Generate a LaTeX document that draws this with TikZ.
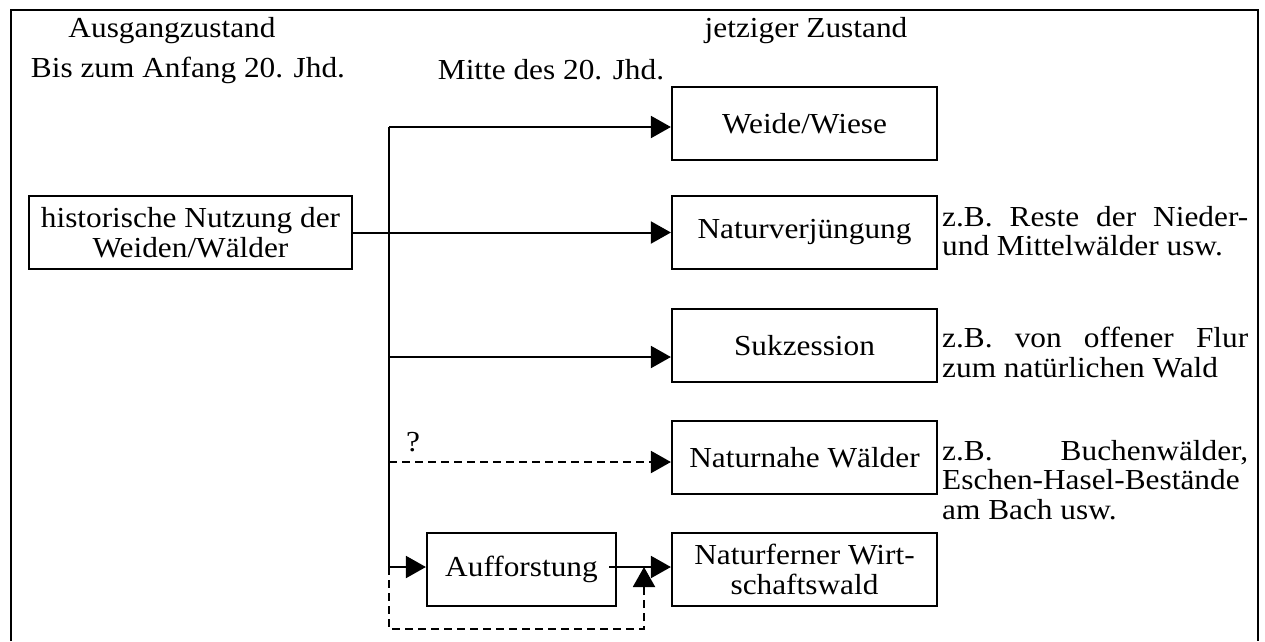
\documentclass[tikz,border=0pt]{standalone}
\usepackage{fontspec}
\setmainfont[FakeStretch=1.08]{Liberation Serif}
\usetikzlibrary{arrows.meta}
\begin{document}
\begin{tikzpicture}[x=1pt,y=-1pt,
  txt/.style={font=\fontsize{29}{29}\selectfont, inner sep=0pt},
  box/.style={draw, line width=2.2pt, minimum height=73pt, inner sep=0pt, align=center, font=\fontsize{29}{30}\selectfont},
  rbox/.style={box, minimum width=265pt},
  side/.style={font=\fontsize{29}{29.5}\selectfont, inner sep=0pt, align=left, anchor=north west},
  conn/.style={line width=2pt},
  arr/.style={conn, -{Triangle[length=20pt,width=22pt]}},
  dsh/.style={dash pattern=on 8pt off 5pt}]
\useasboundingbox (0,0) rectangle (1265,641);
% frame
\draw[line width=2.6pt] (11,641) -- (11,10) -- (1258,10) -- (1258,641);
% headers
\node[txt] (h1) at (172,31) {Ausgangzustand};
\node[txt] (h2) at (188,70) {Bis zum Anfang 20. Jhd.};
\node[txt] (h3) at (551,70) {Mitte des 20. Jhd.};
\node[txt] (h4) at (806,31) {jetziger Zustand};
% boxes
\node[box, minimum width=323pt] (hist) at (190.5,232.5) {historische Nutzung der\\Weiden/Wälder};
\node[rbox] (weide) at (804.5,123.5) {Weide/Wiese};
\node[rbox] (nv) at (804.5,232.5) {\raisebox{-5pt}{Naturverjüngung}};
\node[rbox] (suk) at (804.5,345.5) {Sukzession};
\node[rbox] (nn) at (804.5,457.5) {Naturnahe Wälder};
\node[rbox] (nf) at (804.5,569.5) {Naturferner Wirt-\\schaftswald};
\node[box, minimum width=189pt] (auf) at (521.5,569.5) {Aufforstung};
% side texts
\node[side] (s1) at (942,206) {\makebox[306pt][s]{z.B. Reste der Nieder-}\\und Mittelwälder usw.};
\node[side] (s2) at (942,327) {\makebox[306pt][s]{z.B. von offener Flur}\\zum natürlichen Wald};
\node[side] (s3) at (942,440) {\makebox[306pt][s]{z.B. Buchenwälder,}\\Eschen-Hasel-Bestände\\am Bach usw.};
% trunk
\coordinate (jW) at (389,127);
\coordinate (jS) at (389,357);
\coordinate (jN) at (389,462);
\coordinate (jA) at (389,567);
\coordinate (dB) at (389,629);
\coordinate (dR) at (644,629);
\coordinate (dT) at (644,567);
\draw[conn] (jW) -- (jA);
\draw[arr] (jW) -- (weide.west |- jW);
\draw[arr] (hist.east) -- (nv.west);
\draw[arr] (jS) -- (suk.west |- jS);
\draw[arr, dsh] (jN) -- (nn.west |- jN);
\node[txt] (q) at (413,442) {?};
\draw[arr] (jA) -- (auf.west |- jA);
\draw[arr] ([xshift=-8pt]auf.east |- jA) -- (nf.west |- jA);
\draw[arr, dsh] (jA) -- (dB) -- (dR) -- (dT);
\end{tikzpicture}
\end{document}
